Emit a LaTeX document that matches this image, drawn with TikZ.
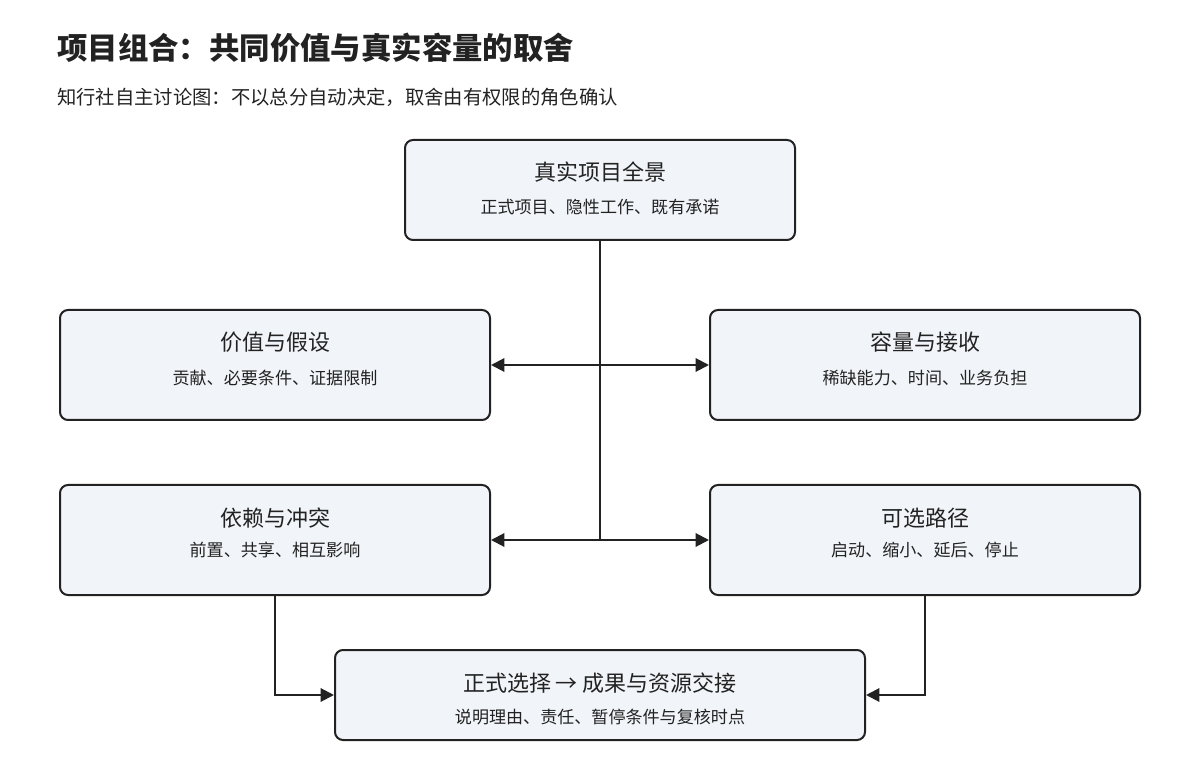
\documentclass[tikz,border=0pt]{standalone}
\usepackage{fontspec}
\setmainfont{Noto Sans CJK SC}
\usetikzlibrary{arrows.meta}
\definecolor{boxfill}{HTML}{F1F4F8}
\definecolor{ink}{HTML}{222222}
\begin{document}
\begin{tikzpicture}[x=0.75pt,y=-0.75pt,
  box/.style={draw=ink,line width=1.5pt,fill=boxfill,rounded corners=6pt,inner sep=0pt},
  ttl/.style={text=ink,font=\fontsize{16.5pt}{20pt}\selectfont,inner sep=0pt},
  sub/.style={text=ink,font=\fontsize{12.8pt}{16pt}\selectfont,inner sep=0pt},
  conn/.style={draw=ink,line width=1.5pt},
  arr/.style={conn,-{Triangle[length=10pt,width=10pt]}}]
\useasboundingbox (0,0) rectangle (1200,780);
\node[anchor=west,inner sep=0pt,text=ink,font=\fontsize{22.8pt}{27pt}\selectfont\bfseries] (title) at (57,48) {项目组合：共同价值与真实容量的取舍};
\node[anchor=west,inner sep=0pt,text=ink,font=\fontsize{14.5pt}{18pt}\selectfont] (subtitle) at (57,97) {知行社自主讨论图：不以总分自动决定，取舍由有权限的角色确认};

\node[box,minimum width=292.5pt,minimum height=75pt] (top) at (600,190) {};
\node[ttl] (topT) at (600,172) {真实项目全景};
\node[sub] (topS) at (600,207) {正式项目、隐性工作、既有承诺};

\node[box,minimum width=322.5pt,minimum height=82.5pt] (l1) at (275,365) {};
\node[ttl] (l1T) at (275,342) {价值与假设};
\node[sub] (l1S) at (275,378) {贡献、必要条件、证据限制};

\node[box,minimum width=322.5pt,minimum height=82.5pt] (r1) at (925,365) {};
\node[ttl] (r1T) at (925,342) {容量与接收};
\node[sub] (r1S) at (925,378) {稀缺能力、时间、业务负担};

\node[box,minimum width=322.5pt,minimum height=82.5pt] (l2) at (275,540) {};
\node[ttl] (l2T) at (275,518) {依赖与冲突};
\node[sub] (l2S) at (275,550) {前置、共享、相互影响};

\node[box,minimum width=322.5pt,minimum height=82.5pt] (r2) at (925,540) {};
\node[ttl] (r2T) at (925,518) {可选路径};
\node[sub] (r2S) at (925,550) {启动、缩小、延后、停止};

\node[box,minimum width=397.5pt,minimum height=67.5pt] (bot) at (600,695) {};
\node[ttl] (botT) at (600,683) {正式选择 → 成果与资源交接};
\node[sub] (botS) at (600,717) {说明理由、责任、暂停条件与复核时点};

\coordinate (j1) at (600,365);
\coordinate (j2) at (600,540);
\draw[conn] (top.south) -- (j2);
\draw[arr] (j1) -- (l1.east);
\draw[arr] (j1) -- (r1.west);
\draw[arr] (j2) -- (l2.east);
\draw[arr] (j2) -- (r2.west);
\draw[arr] (l2.south) |- (bot.west);
\draw[arr] (r2.south) |- (bot.east);
\end{tikzpicture}
\end{document}
